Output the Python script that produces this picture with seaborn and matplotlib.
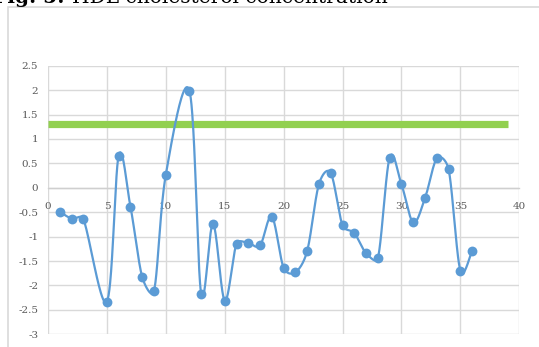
import numpy as np
import pandas as pd
import matplotlib
matplotlib.use("Agg")
import matplotlib.pyplot as plt
from matplotlib.patches import Rectangle
import seaborn as sns

# Measurement index and HDL cholesterol value (standardised)
subject = [1, 2, 3, 5, 6, 7, 8, 9, 10, 12, 13, 14, 15, 16, 17, 18, 19, 20,
           21, 22, 23, 24, 25, 26, 27, 28, 29, 30, 31, 32, 33, 34, 35, 36]
hdl = [-0.49, -0.63, -0.64, -2.33, 0.66, -0.39, -1.83, -2.11, 0.27, 1.99,
       -2.17, -0.74, -2.31, -1.15, -1.13, -1.18, -0.59, -1.64, -1.73, -1.29,
       0.08, 0.30, -0.77, -0.93, -1.34, -1.44, 0.62, 0.07, -0.71, -0.21,
       0.60, 0.38, -1.70, -1.29]

# Reference level drawn as a horizontal bar
ref_x = [0, 39]
ref_y = [1.3, 1.3]

x_ticks = [0, 5, 10, 15, 20, 25, 30, 35, 40]
y_ticks = [-3, -2.5, -2, -1.5, -1, -0.5, 0, 0.5, 1, 1.5, 2, 2.5]

BLUE = "#5b9bd5"
GREEN = "#92d050"
GRID = "#d9d9d9"
TEXT = "#595959"

W, H = 539, 347
AX_L, AX_R, AX_T, AX_B = 48.0, 519.3, 65.7, 334.3
XLIM, YLIM = (0, 40), (-3, 2.5)
SX = (AX_R - AX_L) / (XLIM[1] - XLIM[0])
SY = (AX_B - AX_T) / (YLIM[1] - YLIM[0])


def smooth_curve(xs, ys, n=40, f=1.0 / 6.0):
    """Bezier smoothing through every point, control arms limited to
    half of the segment length (computed in screen units)."""
    p = np.column_stack([np.asarray(xs, float) * SX, np.asarray(ys, float) * SY])
    ext = np.vstack([p[0], p, p[-1]])
    t = np.linspace(0, 1, n)[:, None]
    segs = []
    for i in range(1, len(ext) - 2):
        p0, p1, p2, p3 = ext[i - 1], ext[i], ext[i + 1], ext[i + 2]
        d02 = np.linalg.norm(p2 - p0)
        d13 = np.linalg.norm(p3 - p1)
        d12 = np.linalg.norm(p2 - p1)
        f1 = f if d02 * f <= d12 / 2 else (d12 / d02 / 2 if d02 > 0 else 0)
        f2 = f if d13 * f <= d12 / 2 else (d12 / d13 / 2 if d13 > 0 else 0)
        c1 = p1 + (p2 - p0) * f1
        c2 = p2 - (p3 - p1) * f2
        seg = ((1 - t) ** 3) * p1 + 3 * ((1 - t) ** 2) * t * c1 \
            + 3 * (1 - t) * t ** 2 * c2 + t ** 3 * p2
        segs.append(seg if i == 1 else seg[1:])
    c = np.vstack(segs)
    return c[:, 0] / SX, c[:, 1] / SY


sx, sy = smooth_curve(subject, hdl)
curve = pd.DataFrame({"x": sx, "y": sy})
points = pd.DataFrame({"x": subject, "y": hdl})
ref = pd.DataFrame({"x": ref_x, "y": ref_y})

sns.set_theme(style="white")
plt.rcParams["font.family"] = ["DejaVu Serif"]

fig = plt.figure(figsize=(W / 100, H / 100), dpi=100)

# Chart frame
fig.patches.append(Rectangle((8 / W, -0.05), 1.1, (H - 6.5) / H + 0.05,
                             transform=fig.transFigure, fill=False,
                             edgecolor="#d9d9d9", lw=1.2, zorder=0))

ax = fig.add_axes([AX_L / W, (H - AX_B) / H, (AX_R - AX_L) / W, (AX_B - AX_T) / H])

sns.lineplot(data=ref, x="x", y="y", ax=ax, color=GREEN, lw=5.2,
             solid_capstyle="butt", zorder=2)
sns.lineplot(data=curve, x="x", y="y", ax=ax, color=BLUE, lw=1.6,
             sort=False, estimator=None, zorder=3)
sns.scatterplot(data=points, x="x", y="y", ax=ax, color=BLUE, s=50,
                edgecolor=BLUE, linewidth=0, zorder=4)

ax.set_xlim(*XLIM)
ax.set_ylim(*YLIM)
ax.set_xticks(x_ticks)
ax.set_yticks(y_ticks)
ax.set_xticklabels([f"{v:g}" for v in x_ticks])
ax.set_yticklabels([f"{v:g}" for v in y_ticks])
ax.set_xlabel("")
ax.set_ylabel("")

ax.grid(True, color=GRID, lw=1.0)
ax.set_axisbelow(True)
for side in ["top", "right", "left"]:
    ax.spines[side].set_visible(False)
ax.spines["bottom"].set_position(("data", 0))
ax.spines["bottom"].set_color("#cfcfcf")
ax.spines["bottom"].set_linewidth(1.0)
ax.tick_params(axis="x", length=0, pad=10.5, labelsize=7.5, labelcolor=TEXT)
ax.tick_params(axis="y", length=0, pad=7, labelsize=7.5, labelcolor=TEXT)

# Caption running off the top edge
t1 = fig.text(-7 / W, (H - 3.0) / H, "Fig. 5:", fontsize=14.5,
              fontweight="bold", color="black", va="baseline", ha="left")
fig.canvas.draw()
bb = t1.get_window_extent()
fig.text((bb.x1 + 7) / W, (H - 3.0) / H, "HDL cholesterol concentration",
         fontsize=14.5, color="black", va="baseline", ha="left")

fig.savefig("out.png", dpi=100)
